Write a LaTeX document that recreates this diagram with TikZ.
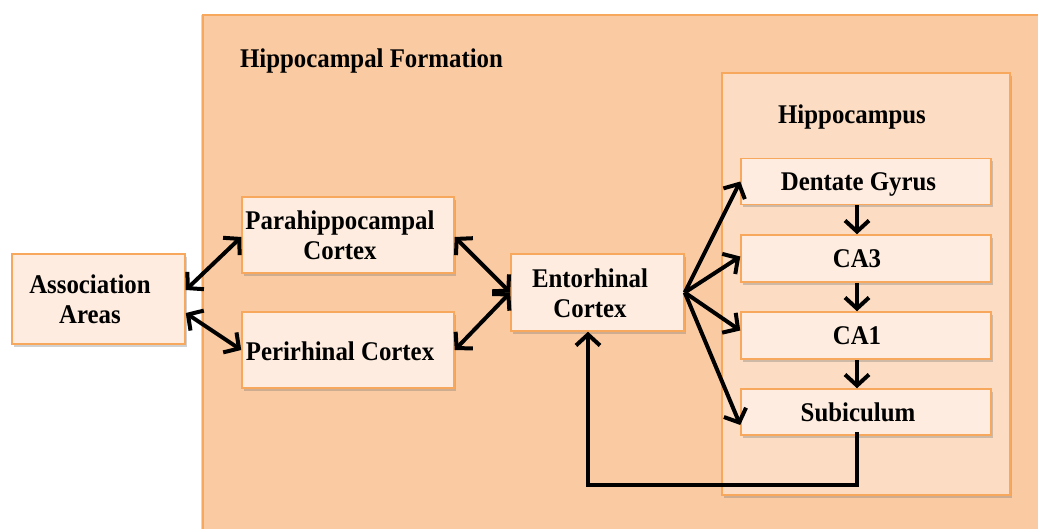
\documentclass[tikz,border=0pt]{standalone}
\usepackage{fontspec}
\setmainfont[FakeStretch=0.92]{Liberation Serif}
\usetikzlibrary{arrows.meta,shadows,calc}
\definecolor{outerfill}{RGB}{250,203,163}
\definecolor{hipfill}{RGB}{252,221,195}
\definecolor{boxfill}{RGB}{253,236,223}
\definecolor{boxline}{RGB}{248,168,92}
\begin{document}
\begin{tikzpicture}[x=1pt,y=-1pt,
  region/.style={draw=boxline, line width=1.2pt, inner sep=0pt},
  areabox/.style={draw=boxline, line width=1.5pt, fill=boxfill, inner sep=0pt,
    drop shadow={shadow xshift=2pt, shadow yshift=-3pt, opacity=0.3, fill=black!60}},
  lab/.style={font=\bfseries\fontsize{27}{30}\selectfont, inner sep=0pt, align=center, text=black},
  tipb/.tip={Straight Barb[length=11pt,width=24pt]},
  conn/.style={line width=4pt, line join=miter, -tipb},
  biconn/.style={line width=4pt, tipb-tipb}
]
\useasboundingbox (0,0) rectangle (1038,529);
\clip (0,0) rectangle (1038,529);

% outer region: Hippocampal Formation
\node[region, fill=outerfill, minimum width=850pt, minimum height=530pt,
  drop shadow={shadow xshift=-2pt, shadow yshift=0pt, opacity=0.25, fill=black!60}]
  (hf) at (628,280) {};
\node[lab, anchor=base] (hftitle) at (371.5,68) {Hippocampal Formation};

% Hippocampus region
\node[region, fill=hipfill, line width=1.5pt, minimum width=288pt, minimum height=422pt,
  drop shadow={shadow xshift=2pt, shadow yshift=-3pt, opacity=0.3, fill=black!60}]
  (hc) at (866,284) {};
\node[lab, anchor=base] (hctitle) at (852,124) {Hippocampus};

% boxes
\node[areabox, minimum width=173pt, minimum height=90pt] (assoc) at (98.5,299) {};
\node[lab] (assoclab) at (90,299.5) {Association\\Areas};

\node[areabox, minimum width=212pt, minimum height=76pt] (para) at (348,235) {};
\node[lab] (paralab) at (340,235.5) {Parahippocampal\\Cortex};

\node[areabox, minimum width=212pt, minimum height=76pt] (peri) at (348,350) {};
\node[lab, anchor=base] (perilab) at (340,360) {Perirhinal Cortex};

\node[areabox, minimum width=173pt, minimum height=77pt] (ento) at (597.5,292.5) {};
\node[lab] (entolab) at (590,293.5) {Entorhinal\\Cortex};

\node[areabox, minimum width=250pt, minimum height=46pt] (dg) at (866,181.5) {};
\node[lab, anchor=base] (dglab) at (858.5,191) {Dentate Gyrus};

\node[areabox, minimum width=250pt, minimum height=47pt] (ca3) at (866,258.5) {};
\node[lab, anchor=base] (ca3lab) at (857,267) {CA3};

\node[areabox, minimum width=250pt, minimum height=47pt] (ca1) at (866,335.5) {};
\node[lab, anchor=base] (ca1lab) at (857,344) {CA1};

\node[areabox, minimum width=250pt, minimum height=46pt] (sub) at (866,412) {};
\node[lab, anchor=base] (sublab) at (858,421) {Subiculum};

% connectors
\draw[biconn] ([yshift=9pt]assoc.east) -- ([yshift=-2pt]para.west);
\draw[biconn] ([yshift=-14pt]assoc.east) -- (peri.west);
\draw[biconn] ([yshift=-2pt]para.east) -- (ento.west);
\draw[biconn] (peri.east) -- (ento.west);

\draw[conn] (ento.east) -- (dg.west);
\draw[conn] (ento.east) -- ([yshift=2pt]ca3.west);
\draw[conn] (ento.east) -- ([yshift=5pt]ca1.west);
\draw[conn] (ento.east) -- ([yshift=-13pt]sub.west);

\draw[conn] ([xshift=-9pt]dg.south) -- ([xshift=-9pt]ca3.north);
\draw[conn] ([xshift=-9pt]ca3.south) -- ([xshift=-9pt]ca1.north);
\draw[conn] ([xshift=-9pt]ca1.south) -- ([xshift=-9pt]sub.north);

\coordinate (ret) at (588,485);
\draw[conn] ([xshift=-9pt,yshift=4pt]sub.south) |- (ret) -- ([xshift=-9.5pt]ento.south);
\end{tikzpicture}
\end{document}
